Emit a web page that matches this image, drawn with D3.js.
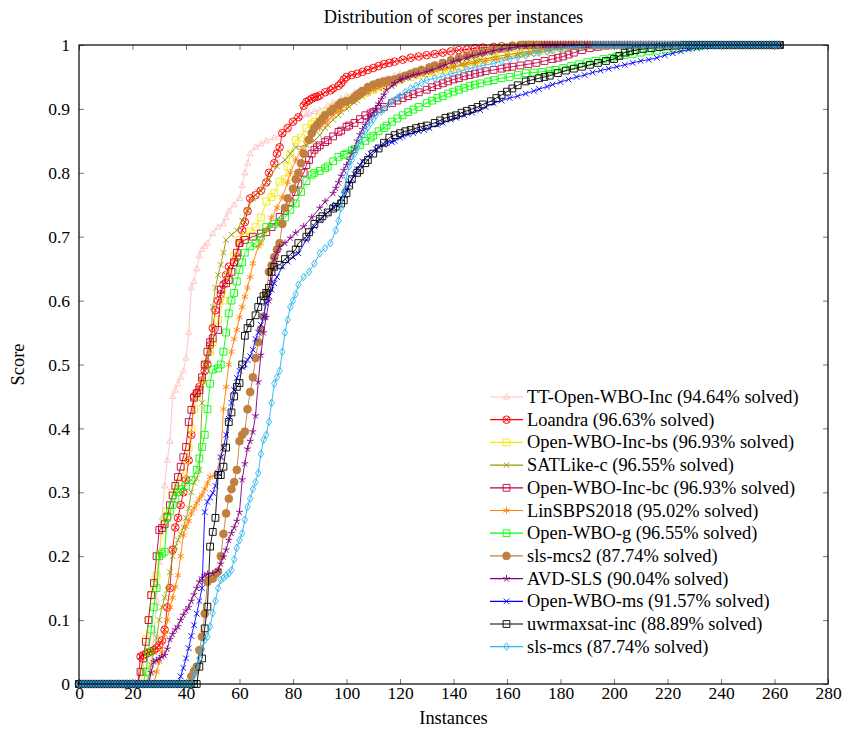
<!DOCTYPE html>
<html>
<head>
<meta charset="utf-8">
<script src="https://cdn.jsdelivr.net/npm/d3@7"></script>
<style>
  body { margin: 0; background: #fff; }
  text { font-family: "Liberation Serif", "Times New Roman", serif; fill: #000; }
</style>
</head>
<body>
<svg id="chart" width="848" height="734"></svg>
<script>
// ---- data ----
const names = ["TT-Open-WBO-Inc", "Loandra", "Open-WBO-Inc-bs", "SATLike-c", "Open-WBO-Inc-bc",
  "LinSBPS2018", "Open-WBO-g", "sls-mcs2", "AVD-SLS", "Open-WBO-ms", "uwrmaxsat-inc", "sls-mcs"];
const solved = ["94.64", "96.63", "96.93", "96.55", "96.93", "95.02", "96.55", "87.74", "90.04", "91.57", "88.89", "87.74"];
const colors = ["#ffbfbf", "#ff0000", "#f2ea00", "#999900", "#bf0040", "#ff8000",
  "#00ff00", "#bf8040", "#800080", "#0000ff", "#000000", "#2ab4ee"];
const markers = ["triangle", "otimes", "square", "x", "square", "asterisk",
  "square", "dot", "star", "x", "square", "diamond"];
// last instance index with score 0, and first index with score 1
const zerosUpTo = [26, 22, 23, 25, 22, 28, 24, 41, 26, 37, 44, 42];
const onesFrom = [174, 166, 190, 186, 200, 192, 236, 165, 173, 240, 226, 192];
const lastInstance = 262;
const xTicks = [0, 20, 40, 60, 80, 100, 120, 140, 160, 180, 200, 220, 240, 260, 280];
const yTicks = [0, 0.1, 0.2, 0.3, 0.4, 0.5, 0.6, 0.7, 0.8, 0.9, 1];

const ttOpenWboInc = [[27,0.03],[28,0.08],[29,0.13],[30,0.19],[31,0.26],[32,0.31],[33,0.35],[34,0.38],[35,0.45],[36,0.46],[37,0.47],[38,0.48],[39,0.49],[40,0.51],[41,0.55],[42,0.62],[43,0.63],[44,0.65],[45,0.67],[46,0.68],[47,0.685],[48,0.69],[50,0.705],[52,0.715],[54,0.72],[55,0.73],[56,0.74],[58,0.75],[60,0.76],[61,0.78],[62,0.8],[63,0.815],[64,0.83],[66,0.84],[68,0.845],[70,0.85],[73,0.855],[76,0.86],[78,0.87],[80,0.88],[82,0.886],[83,0.888],[85,0.891],[86,0.893],[88,0.896],[90,0.898],[93,0.905],[95,0.91],[98,0.916],[100,0.92],[103,0.926],[105,0.93],[108,0.936],[110,0.94],[113,0.945],[115,0.948],[118,0.952],[120,0.955],[125,0.96],[130,0.965],[135,0.97],[140,0.975],[145,0.98],[150,0.985],[155,0.989],[160,0.992],[164,0.995],[168,0.997],[171,0.999]];
const loandra = [[23,0.043],[24,0.045],[25,0.047],[26,0.049],[27,0.051],[28,0.053],[29,0.056],[30,0.061],[31,0.068],[32,0.085],[33,0.12],[34,0.15],[35,0.21],[36,0.245],[37,0.26],[38,0.28],[39,0.3],[40,0.32],[41,0.35],[42,0.39],[43,0.45],[44,0.455],[45,0.465],[46,0.475],[47,0.49],[48,0.5],[49,0.53],[50,0.557],[51,0.585],[52,0.6],[53,0.61],[54,0.625],[55,0.64],[56,0.653],[58,0.66],[59,0.668],[60,0.69],[61,0.71],[62,0.723],[63,0.74],[64,0.76],[66,0.765],[68,0.772],[70,0.785],[71,0.8],[73,0.815],[74,0.83],[75,0.84],[76,0.862],[78,0.87],[80,0.88],[82,0.887],[84,0.905],[85,0.911],[86,0.913],[87,0.916],[88,0.918],[89,0.919],[90,0.921],[92,0.926],[94,0.929],[95,0.932],[97,0.936],[98,0.94],[99,0.946],[100,0.95],[102,0.953],[104,0.955],[106,0.958],[108,0.961],[110,0.964],[112,0.967],[114,0.97],[116,0.972],[118,0.974],[121,0.977],[124,0.98],[127,0.982],[130,0.984],[133,0.986],[136,0.988],[139,0.99],[142,0.992],[145,0.993],[148,0.995],[151,0.996],[155,0.997],[158,0.998],[162,0.999]];
const openWboIncBs = [[24,0.02],[25,0.07],[26,0.1],[27,0.14],[28,0.155],[29,0.17],[30,0.2],[31,0.24],[32,0.255],[33,0.27],[35,0.3],[37,0.315],[39,0.33],[40,0.35],[41,0.37],[42,0.4],[43,0.43],[44,0.45],[45,0.46],[46,0.475],[47,0.5],[49,0.52],[50,0.535],[52,0.57],[54,0.6],[56,0.64],[58,0.67],[60,0.695],[62,0.7],[64,0.708],[66,0.715],[68,0.73],[70,0.755],[72,0.762],[73,0.768],[75,0.786],[77,0.79],[78,0.81],[79,0.83],[81,0.851],[83,0.855],[85,0.87],[87,0.876],[88,0.88],[90,0.886],[92,0.891],[93,0.895],[95,0.9],[96,0.903],[98,0.908],[100,0.912],[102,0.916],[104,0.92],[107,0.925],[110,0.93],[113,0.934],[117,0.94],[120,0.945],[124,0.95],[127,0.953],[130,0.956],[133,0.958],[136,0.961],[139,0.963],[142,0.966],[145,0.97],[148,0.973],[151,0.976],[155,0.98],[158,0.983],[162,0.985],[165,0.986],[167,0.987],[170,0.989],[173,0.991],[177,0.993],[180,0.995],[183,0.997],[186,0.998]];
const satLikeC = [[26,0.009],[27,0.03],[28,0.05],[29,0.072],[30,0.1],[31,0.12],[32,0.135],[33,0.147],[34,0.175],[35,0.2],[36,0.215],[37,0.225],[38,0.235],[39,0.245],[40,0.26],[41,0.275],[42,0.3],[43,0.315],[44,0.322],[45,0.335],[46,0.44],[47,0.5],[48,0.51],[49,0.523],[50,0.59],[51,0.62],[52,0.64],[53,0.656],[54,0.675],[55,0.695],[57,0.703],[59,0.71],[61,0.725],[63,0.742],[65,0.76],[67,0.77],[69,0.778],[71,0.79],[74,0.81],[77,0.82],[79,0.83],[81,0.84],[85,0.843],[88,0.85],[90,0.859],[92,0.87],[93,0.875],[95,0.883],[97,0.89],[98,0.895],[100,0.9],[101,0.903],[103,0.91],[104,0.913],[106,0.919],[108,0.925],[110,0.93],[112,0.933],[115,0.938],[118,0.942],[120,0.945],[123,0.949],[125,0.952],[128,0.955],[130,0.958],[133,0.961],[135,0.963],[138,0.965],[140,0.967],[143,0.97],[145,0.972],[148,0.975],[150,0.977],[155,0.981],[160,0.985],[165,0.988],[170,0.991],[175,0.994],[180,0.996],[183,0.998]];
const openWboIncBc = [[23,0.019],[24,0.04],[25,0.066],[26,0.1],[27,0.139],[28,0.158],[29,0.2],[30,0.241],[31,0.244],[32,0.25],[33,0.262],[34,0.28],[35,0.295],[36,0.31],[37,0.324],[38,0.34],[39,0.355],[40,0.371],[41,0.41],[42,0.429],[43,0.448],[44,0.455],[45,0.46],[46,0.48],[47,0.5],[48,0.52],[49,0.535],[50,0.541],[52,0.554],[53,0.617],[55,0.627],[56,0.632],[57,0.645],[58,0.66],[59,0.675],[60,0.69],[62,0.695],[65,0.7],[68,0.705],[70,0.707],[72,0.715],[75,0.731],[77,0.74],[79,0.754],[81,0.77],[82,0.783],[84,0.8],[85,0.812],[86,0.82],[87,0.83],[88,0.836],[89,0.84],[90,0.843],[92,0.848],[93,0.851],[95,0.857],[97,0.864],[98,0.866],[100,0.872],[101,0.874],[103,0.878],[105,0.884],[107,0.89],[109,0.893],[110,0.895],[112,0.9],[114,0.903],[117,0.909],[119,0.913],[121,0.917],[123,0.92],[125,0.923],[127,0.926],[130,0.93],[132,0.934],[134,0.937],[136,0.94],[138,0.943],[140,0.946],[142,0.948],[144,0.951],[146,0.953],[148,0.955],[150,0.957],[152,0.959],[155,0.961],[158,0.963],[160,0.965],[162,0.966],[165,0.968],[168,0.97],[171,0.972],[174,0.975],[177,0.978],[179,0.98],[181,0.982],[183,0.985],[185,0.988],[188,0.992],[191,0.995],[194,0.997],[197,0.999]];
const linSbps2018 = [[29,0.019],[30,0.035],[31,0.05],[32,0.077],[33,0.1],[34,0.12],[35,0.135],[36,0.152],[37,0.17],[38,0.2],[39,0.233],[40,0.246],[41,0.255],[42,0.267],[43,0.275],[44,0.283],[45,0.29],[46,0.296],[47,0.305],[48,0.314],[49,0.324],[51,0.327],[53,0.355],[54,0.43],[55,0.465],[56,0.5],[57,0.52],[58,0.54],[59,0.554],[60,0.574],[61,0.59],[62,0.606],[63,0.62],[64,0.637],[65,0.658],[67,0.685],[68,0.69],[70,0.71],[72,0.73],[74,0.745],[76,0.762],[78,0.785],[79,0.8],[81,0.82],[83,0.835],[85,0.851],[87,0.86],[88,0.865],[90,0.87],[92,0.878],[93,0.882],[95,0.89],[97,0.896],[98,0.9],[100,0.907],[103,0.915],[105,0.92],[108,0.926],[110,0.93],[113,0.934],[115,0.937],[118,0.942],[120,0.945],[123,0.949],[126,0.952],[129,0.955],[132,0.958],[136,0.962],[140,0.965],[144,0.969],[148,0.972],[152,0.975],[156,0.978],[160,0.981],[164,0.984],[168,0.987],[172,0.99],[176,0.992],[180,0.994],[184,0.996],[188,0.998]];
const openWboG = [[25,0.019],[26,0.05],[27,0.085],[28,0.12],[29,0.15],[30,0.2],[31,0.204],[32,0.207],[33,0.26],[34,0.27],[35,0.28],[36,0.29],[37,0.3],[38,0.305],[40,0.31],[42,0.319],[44,0.335],[45,0.353],[46,0.371],[47,0.39],[48,0.43],[49,0.47],[50,0.492],[52,0.494],[53,0.5],[54,0.52],[55,0.55],[56,0.58],[57,0.6],[58,0.612],[59,0.63],[60,0.648],[61,0.66],[62,0.675],[64,0.685],[66,0.69],[68,0.7],[70,0.715],[73,0.72],[75,0.723],[77,0.73],[79,0.742],[81,0.752],[83,0.77],[85,0.787],[87,0.797],[88,0.8],[90,0.803],[92,0.807],[93,0.81],[95,0.818],[97,0.825],[99,0.828],[100,0.83],[102,0.835],[103,0.837],[105,0.843],[107,0.85],[109,0.855],[110,0.858],[112,0.865],[114,0.87],[115,0.874],[117,0.88],[119,0.885],[121,0.89],[123,0.895],[125,0.899],[127,0.903],[130,0.909],[132,0.913],[134,0.917],[136,0.92],[138,0.924],[140,0.927],[142,0.93],[144,0.933],[146,0.936],[148,0.938],[150,0.94],[153,0.943],[155,0.945],[158,0.948],[161,0.95],[164,0.953],[167,0.956],[170,0.957],[173,0.958],[176,0.96],[178,0.961],[181,0.964],[184,0.967],[187,0.97],[190,0.973],[193,0.975],[196,0.978],[199,0.98],[201,0.982],[204,0.984],[207,0.986],[210,0.988],[213,0.99],[216,0.991],[220,0.993],[223,0.995],[226,0.996],[229,0.997],[232,0.998]];
const slsMcs2 = [[42,0.012],[43,0.02],[44,0.027],[45,0.053],[46,0.074],[47,0.11],[48,0.16],[49,0.164],[50,0.165],[51,0.172],[52,0.176],[53,0.2],[54,0.235],[55,0.267],[56,0.29],[57,0.305],[58,0.316],[59,0.335],[60,0.38],[61,0.39],[62,0.395],[63,0.43],[64,0.457],[65,0.48],[66,0.51],[67,0.535],[68,0.555],[69,0.575],[70,0.61],[71,0.645],[72,0.655],[73,0.668],[74,0.68],[75,0.69],[76,0.72],[77,0.745],[78,0.76],[80,0.775],[81,0.79],[82,0.8],[83,0.815],[84,0.83],[86,0.852],[87,0.862],[88,0.87],[89,0.875],[90,0.88],[91,0.885],[92,0.89],[94,0.896],[95,0.9],[97,0.906],[98,0.91],[100,0.912],[102,0.914],[103,0.918],[104,0.922],[105,0.925],[106,0.928],[108,0.934],[110,0.938],[112,0.941],[114,0.943],[116,0.945],[118,0.946],[120,0.949],[122,0.952],[124,0.955],[126,0.958],[128,0.961],[131,0.965],[133,0.968],[136,0.972],[139,0.976],[142,0.98],[145,0.983],[148,0.986],[151,0.989],[154,0.991],[157,0.994],[160,0.996],[162,0.998]];
const avdSls = [[27,0.018],[28,0.035],[29,0.037],[30,0.04],[31,0.043],[32,0.045],[33,0.055],[34,0.07],[35,0.078],[36,0.085],[37,0.09],[38,0.1],[39,0.108],[40,0.115],[41,0.12],[42,0.13],[43,0.14],[44,0.15],[45,0.16],[46,0.166],[47,0.17],[48,0.172],[50,0.173],[52,0.178],[53,0.188],[54,0.199],[55,0.21],[56,0.225],[57,0.236],[58,0.245],[59,0.255],[60,0.269],[61,0.32],[62,0.345],[63,0.368],[64,0.38],[65,0.395],[66,0.42],[67,0.473],[68,0.515],[69,0.55],[70,0.574],[71,0.6],[72,0.63],[73,0.665],[74,0.675],[75,0.684],[77,0.69],[79,0.698],[81,0.706],[84,0.716],[87,0.73],[90,0.745],[92,0.755],[95,0.768],[96,0.776],[97,0.785],[98,0.795],[99,0.804],[100,0.812],[101,0.82],[102,0.83],[103,0.838],[104,0.85],[105,0.86],[106,0.868],[107,0.875],[108,0.882],[109,0.888],[110,0.894],[111,0.9],[112,0.908],[113,0.915],[114,0.922],[115,0.93],[117,0.936],[118,0.94],[120,0.945],[121,0.947],[123,0.95],[125,0.953],[127,0.955],[130,0.958],[132,0.961],[135,0.966],[137,0.969],[140,0.974],[142,0.976],[145,0.98],[147,0.983],[150,0.986],[152,0.988],[155,0.991],[158,0.993],[161,0.995],[164,0.997],[167,0.998],[170,0.999]];
const openWboMs = [[38,0.012],[39,0.025],[40,0.04],[41,0.056],[42,0.075],[43,0.092],[44,0.11],[45,0.13],[46,0.15],[47,0.269],[48,0.285],[49,0.292],[50,0.299],[51,0.31],[52,0.33],[53,0.355],[54,0.37],[55,0.39],[56,0.415],[57,0.44],[58,0.46],[59,0.479],[60,0.49],[61,0.496],[62,0.5],[63,0.507],[64,0.513],[65,0.523],[66,0.54],[67,0.55],[68,0.562],[69,0.575],[70,0.596],[71,0.607],[72,0.617],[73,0.627],[74,0.637],[76,0.653],[78,0.661],[80,0.668],[82,0.674],[85,0.695],[87,0.71],[88,0.716],[90,0.726],[92,0.734],[93,0.738],[95,0.746],[96,0.75],[98,0.76],[99,0.766],[100,0.773],[101,0.782],[102,0.79],[103,0.798],[104,0.805],[105,0.812],[106,0.818],[108,0.826],[109,0.83],[111,0.837],[112,0.84],[114,0.844],[115,0.846],[117,0.848],[118,0.85],[120,0.855],[121,0.857],[123,0.86],[125,0.862],[127,0.865],[129,0.867],[131,0.87],[134,0.875],[136,0.878],[139,0.883],[141,0.886],[144,0.89],[147,0.894],[150,0.898],[152,0.903],[155,0.909],[158,0.913],[161,0.917],[164,0.92],[167,0.924],[170,0.928],[172,0.931],[175,0.935],[177,0.938],[180,0.942],[183,0.946],[186,0.95],[189,0.953],[192,0.957],[195,0.96],[198,0.963],[201,0.966],[204,0.969],[207,0.972],[210,0.975],[213,0.977],[216,0.98],[219,0.984],[222,0.987],[225,0.99],[228,0.993],[231,0.995],[234,0.997],[236,0.998]];
const uwrmaxsatInc = [[45,0.027],[46,0.04],[47,0.087],[48,0.121],[49,0.215],[50,0.238],[51,0.26],[52,0.327],[53,0.327],[54,0.34],[55,0.37],[56,0.41],[57,0.425],[58,0.45],[59,0.465],[60,0.471],[61,0.5],[62,0.545],[63,0.557],[64,0.565],[66,0.577],[67,0.59],[68,0.6],[69,0.607],[70,0.612],[71,0.62],[72,0.645],[73,0.653],[75,0.656],[77,0.665],[79,0.672],[81,0.68],[82,0.69],[85,0.7],[86,0.707],[88,0.72],[90,0.728],[91,0.732],[93,0.738],[95,0.744],[96,0.747],[98,0.752],[99,0.757],[100,0.768],[101,0.78],[102,0.79],[104,0.8],[105,0.804],[107,0.815],[108,0.82],[110,0.83],[112,0.838],[114,0.847],[116,0.855],[118,0.859],[120,0.862],[122,0.865],[124,0.867],[126,0.87],[128,0.872],[130,0.874],[133,0.878],[135,0.882],[137,0.886],[139,0.888],[141,0.89],[143,0.894],[145,0.897],[147,0.9],[149,0.903],[151,0.907],[154,0.912],[156,0.917],[158,0.922],[160,0.927],[162,0.932],[164,0.937],[167,0.943],[169,0.945],[172,0.948],[174,0.95],[176,0.952],[179,0.956],[182,0.96],[185,0.963],[188,0.966],[191,0.969],[194,0.972],[197,0.975],[200,0.978],[202,0.983],[204,0.988],[206,0.99],[208,0.992],[211,0.994],[214,0.995],[217,0.997],[220,0.998],[223,0.999]];
const slsMcs = [[43,0.014],[44,0.027],[45,0.04],[46,0.055],[47,0.069],[48,0.074],[49,0.09],[50,0.111],[51,0.13],[52,0.15],[53,0.163],[54,0.166],[55,0.17],[56,0.173],[57,0.178],[58,0.195],[59,0.213],[60,0.225],[61,0.236],[62,0.257],[63,0.277],[64,0.29],[65,0.305],[66,0.316],[67,0.33],[68,0.36],[69,0.382],[70,0.39],[71,0.41],[72,0.44],[73,0.47],[74,0.48],[75,0.49],[76,0.52],[77,0.55],[78,0.57],[79,0.59],[80,0.6],[81,0.61],[82,0.625],[84,0.637],[86,0.645],[88,0.658],[90,0.674],[92,0.682],[94,0.69],[96,0.71],[97,0.725],[98,0.745],[99,0.77],[100,0.794],[101,0.81],[102,0.82],[103,0.83],[104,0.84],[105,0.851],[106,0.858],[107,0.866],[108,0.872],[109,0.878],[110,0.884],[111,0.89],[113,0.896],[114,0.9],[116,0.908],[117,0.912],[119,0.917],[120,0.92],[122,0.926],[124,0.932],[126,0.936],[128,0.941],[130,0.945],[133,0.948],[136,0.951],[139,0.955],[142,0.958],[145,0.962],[148,0.965],[151,0.968],[155,0.971],[158,0.975],[161,0.978],[164,0.981],[167,0.984],[170,0.987],[172,0.988],[175,0.99],[177,0.992],[180,0.994],[183,0.996],[186,0.997],[188,0.998]];

const seriesPoints = [ttOpenWboInc, loandra, openWboIncBs, satLikeC, openWboIncBc, linSbps2018,
  openWboG, slsMcs2, avdSls, openWboMs, uwrmaxsatInc, slsMcs];

// ---- layout ----
const svg = d3.select("#chart");
const margin = {left: 79, right: 20, top: 45, bottom: 50};
const W = 848, H = 734;
const width = W - margin.left - margin.right;
const height = H - margin.top - margin.bottom;
const fontSize = "18.4px";

const x = d3.scaleLinear().domain([0, 280]).range([0, width]);
const y = d3.scaleLinear().domain([0, 1]).range([height, 0]);

const g = svg.append("g").attr("transform", `translate(${margin.left},${margin.top})`);

// full series: run of zeros, read points, run of ones
const series = names.map((name, i) => {
  const pts = [];
  for (let k = 0; k <= zerosUpTo[i]; k++) pts.push([k, 0]);
  seriesPoints[i].forEach(p => pts.push(p));
  for (let k = onesFrom[i]; k <= lastInstance; k++) pts.push([k, 1]);
  return {name: name, color: colors[i], marker: markers[i], pts: pts};
});

function markerPath(type) {
  const r = 3.4;
  switch (type) {
    case "triangle": return `M0,${-r}L${r*0.9},${r*0.6}L${-r*0.9},${r*0.6}Z`;
    case "otimes": {
      const c = 3.8, k = c * 0.707;
      return `M${c},0A${c},${c} 0 1 1 ${-c},0A${c},${c} 0 1 1 ${c},0Z` +
        `M${-k},${-k}L${k},${k}M${-k},${k}L${k},${-k}`;
    }
    case "square": return `M${-r},${-r}H${r}V${r}H${-r}Z`;
    case "x": { const k = 2.8; return `M${-k},${-k}L${k},${k}M${-k},${k}L${k},${-k}`; }
    case "asterisk": {
      const k = 3.6; let p = "";
      [90, 30, 150].forEach(a => {
        const dx = k * Math.cos(a * Math.PI / 180), dy = k * Math.sin(a * Math.PI / 180);
        p += `M${-dx},${-dy}L${dx},${dy}`;
      });
      return p;
    }
    case "star": {
      const k = 3.6; let p = "";
      for (let j = 0; j < 5; j++) {
        const a = (-90 + j * 72) * Math.PI / 180;
        p += `M0,0L${k*Math.cos(a)},${k*Math.sin(a)}`;
      }
      return p;
    }
    case "dot": { const c = 3.9; return `M${c},0A${c},${c} 0 1 1 ${-c},0A${c},${c} 0 1 1 ${c},0Z`; }
    case "diamond": return `M0,${-3.8}L${2.7},0L0,${3.8}L${-2.7},0Z`;
  }
  return "";
}

const line = d3.line().x(d => x(d[0])).y(d => y(d[1]));

// clip to a little beyond the axis box
g.append("clipPath").attr("id", "plotclip")
  .append("rect").attr("x", -6).attr("y", -6).attr("width", width + 12).attr("height", height + 12);

const plot = g.append("g").attr("clip-path", "url(#plotclip)");

series.forEach(s => {
  const sg = plot.append("g").attr("class", "series");
  sg.append("path").datum(s.pts)
    .attr("d", line).attr("fill", "none")
    .attr("stroke", s.color).attr("stroke-width", 0.9);
  sg.selectAll("path.mk").data(s.pts).enter().append("path").attr("class", "mk")
    .attr("transform", d => `translate(${x(d[0])},${y(d[1])})`)
    .attr("d", markerPath(s.marker))
    .attr("fill", s.marker === "dot" ? s.color : "none")
    .attr("stroke", s.color).attr("stroke-width", 0.9);
});

// ---- axes ----
const fmtY = d => d === 0 ? "0" : d === 1 ? "1" : d.toFixed(1);

const xAxis = g.append("g").attr("transform", `translate(0,${height})`)
  .call(d3.axisBottom(x).tickValues(xTicks).tickSize(-5).tickPadding(3).tickFormat(d3.format("d")));
const xAxisTop = g.append("g")
  .call(d3.axisTop(x).tickValues(xTicks).tickSize(-5).tickFormat(""));
const yAxis = g.append("g")
  .call(d3.axisLeft(y).tickValues(yTicks).tickSize(-5).tickPadding(9).tickFormat(fmtY));
const yAxisRight = g.append("g").attr("transform", `translate(${width},0)`)
  .call(d3.axisRight(y).tickValues(yTicks).tickSize(-5).tickFormat(""));

[xAxis, xAxisTop, yAxis, yAxisRight].forEach(a => {
  a.select(".domain").remove();
  a.selectAll(".tick line").attr("stroke", "#777").attr("stroke-width", 1);
  a.selectAll(".tick text").style("font-family", "'Liberation Serif', serif").style("font-size", "17.5px").attr("fill", "#000");
});

g.append("rect").attr("width", width).attr("height", height)
  .attr("fill", "none").attr("stroke", "#000").attr("stroke-width", 1.2);

// ---- titles ----
svg.append("text").attr("x", margin.left + width / 2).attr("y", 23)
  .attr("text-anchor", "middle").style("font-size", fontSize)
  .text("Distribution of scores per instances");
svg.append("text").attr("x", margin.left + width / 2).attr("y", 724)
  .attr("text-anchor", "middle").style("font-size", fontSize).text("Instances");
svg.append("text").attr("transform", `translate(24,${margin.top + height / 2}) rotate(-90)`)
  .attr("text-anchor", "middle").style("font-size", fontSize).text("Score");

// ---- legend ----
const legend = svg.append("g").attr("transform", "translate(490,397)");
series.forEach((s, i) => {
  const row = legend.append("g").attr("transform", `translate(0,${i * 22.7})`);
  row.append("line").attr("x1", 0).attr("x2", 33).attr("y1", 0).attr("y2", 0)
    .attr("stroke", s.color).attr("stroke-width", 1.2);
  row.append("path").attr("transform", "translate(16.5,0)")
    .attr("d", markerPath(s.marker))
    .attr("fill", s.marker === "dot" ? s.color : "none")
    .attr("stroke", s.color).attr("stroke-width", 0.9);
  row.append("text").attr("x", 37).attr("y", 6).style("font-size", fontSize)
    .text(`${s.name} (${solved[i]}% solved)`);
});
</script>
</body>
</html>
